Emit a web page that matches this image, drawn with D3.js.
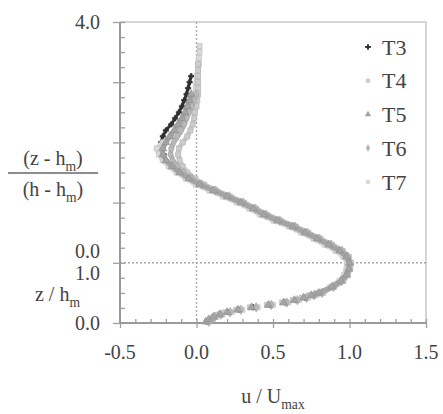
<!DOCTYPE html>
<html>
<head>
<meta charset="utf-8">
<script src="https://cdn.jsdelivr.net/npm/d3@7"></script>
<style>
  body { margin: 0; background: #fff; }
  svg text { fill: #444; }
</style>
</head>
<body>
<svg id="chart" width="443" height="414" font-family="'Liberation Serif', 'Times New Roman', 'DejaVu Serif', serif"></svg>
<script>
// measurement levels (composite vertical coordinate: 0-1 = z/hm, 1-5 = 1 + (z-hm)/(h-hm))
const zLevels = [0.02,0.06,0.10,0.14,0.18,0.22,0.26,0.30,0.34,0.38,0.42,0.46,0.50,
  0.6,0.7,0.8,0.9,1.0,1.1,1.2,1.3,1.4,1.5,1.6,1.7,1.8,1.9,2.0,2.1,2.2,2.3,2.4,2.5,
  2.6,2.7,2.8,2.9,3.0,3.1,3.2,3.3,3.4,3.5,3.6,3.7,3.8,3.9,4.0,4.1,4.2,4.3,4.4,4.5,4.6];

// u / Umax per run
const uT3 = [0.07,0.09,0.12,0.16,0.21,0.28,0.37,0.48,0.58,0.65,0.71,0.76,0.81,
  0.885,0.945,0.98,0.995,1.0,
  0.98,0.935,0.865,0.79,0.71,0.63,0.53,0.44,0.37,0.29,0.20,0.11,0.02,
  -0.05,-0.11,-0.16,-0.20,-0.215,-0.225,
  -0.23,-0.22,-0.20,-0.165,-0.14,-0.115,-0.095,-0.08,-0.065,-0.055,-0.045,-0.035];
const uT4 = [0.07,0.09,0.11,0.14,0.19,0.26,0.35,0.46,0.56,0.63,0.69,0.74,0.79,
  0.90,0.96,0.99,1.005,1.01,
  0.995,0.955,0.885,0.81,0.73,0.65,0.55,0.46,0.39,0.31,0.22,0.13,0.05,
  -0.01,-0.06,-0.09,-0.11,-0.12,-0.115,
  -0.09,-0.06,-0.04,-0.025,-0.015,-0.01,0.0,0.005,0.01,0.01,0.01,0.01,0.01,0.01];
const uT5 = [0.06,0.08,0.11,0.15,0.20,0.27,0.36,0.47,0.57,0.64,0.70,0.75,0.80,
  0.885,0.945,0.98,0.995,1.0,
  0.98,0.935,0.865,0.79,0.71,0.63,0.53,0.44,0.37,0.29,0.20,0.11,0.02,
  -0.05,-0.11,-0.16,-0.20,-0.22,-0.22,
  -0.20,-0.175,-0.145,-0.12,-0.095,-0.075,-0.06,-0.045,-0.035];
const uT6 = [0.08,0.10,0.12,0.16,0.22,0.29,0.39,0.49,0.59,0.66,0.72,0.77,0.82,
  0.895,0.95,0.98,0.995,1.0,
  0.99,0.95,0.88,0.805,0.725,0.645,0.545,0.455,0.385,0.305,0.215,0.125,0.035,
  -0.03,-0.085,-0.125,-0.155,-0.17,-0.165,
  -0.15,-0.125,-0.10,-0.08,-0.065,-0.05,-0.03,-0.015,0.0];
const uT7 = [0.08,0.10,0.13,0.17,0.23,0.30,0.40,0.50,0.60,0.67,0.73,0.78,0.83,
  0.875,0.935,0.965,0.98,0.985,
  0.96,0.91,0.84,0.765,0.685,0.605,0.505,0.415,0.345,0.265,0.175,0.085,-0.005,
  -0.07,-0.13,-0.18,-0.22,-0.245,-0.26,
  -0.22,-0.165,-0.125,-0.095,-0.07,-0.05,-0.035,-0.02,-0.01,-0.005,0.0,0.005,0.01,0.015,0.015,0.02,0.02];

const runNames = ["T3","T4","T5","T6","T7"];
const xTicks = [-0.5,0,0.5,1.0,1.5];

const series = [
  {name:"T3", u:uT3, color:"#333333", sym:d3.symbolCross},
  {name:"T4", u:uT4, color:"#cdcdcd", sym:d3.symbolSquare},
  {name:"T5", u:uT5, color:"#a4a4a4", sym:d3.symbolTriangle},
  {name:"T6", u:uT6, color:"#b9b9b9", sym:d3.symbolDiamond},
  {name:"T7", u:uT7, color:"#dadada", sym:d3.symbolSquare}
];

const svg = d3.select("#chart");
const pLeft = 120, pRight = 426, pTop = 22, pBottom = 323;

const x = d3.scaleLinear().domain([-0.5,1.5]).range([pLeft,pRight]);
const y = d3.scaleLinear().domain([0,5]).range([pBottom,pTop]);

// frame (top / right)
svg.append("path")
  .attr("d","M"+pLeft+","+pTop+"H"+pRight+"V"+pBottom)
  .attr("fill","none").attr("stroke","#c8c8c8").attr("stroke-width",1.5);

// dotted reference lines
svg.append("line")
  .attr("x1",x(0)).attr("x2",x(0)).attr("y1",pTop).attr("y2",pBottom)
  .attr("stroke","#a8a8a8").attr("stroke-width",1.3).attr("stroke-dasharray","2,2");
svg.append("line")
  .attr("x1",pLeft).attr("x2",pRight).attr("y1",y(1)).attr("y2",y(1))
  .attr("stroke","#a8a8a8").attr("stroke-width",1.6).attr("stroke-dasharray","2,2");

// axes
const xMinor = d3.range(-5,16).map(d=>d/10);
const yMinor = d3.range(0,21).map(d=>d/4);

function styleAxis(g) {
  g.select(".domain").remove();
  g.selectAll(".tick line").attr("stroke","#a0a0a0").attr("stroke-width",1.3);
  g.selectAll(".tick text").remove();
}

svg.append("g").attr("transform","translate(0,"+pBottom+")")
  .call(d3.axisTop(x).tickValues(xMinor).tickSize(4)).call(styleAxis);
svg.append("g").attr("transform","translate(0,"+pBottom+")")
  .call(d3.axisBottom(x).tickValues(xTicks).tickSize(5)).call(styleAxis);
svg.append("g").attr("transform","translate("+pLeft+",0)")
  .call(d3.axisRight(y).tickValues(yMinor).tickSize(5)).call(styleAxis);
svg.append("g").attr("transform","translate("+pLeft+",0)")
  .call(d3.axisLeft(y).tickValues([0,1,2,3,4,5]).tickSize(7)).call(styleAxis);

// axis lines
svg.append("path")
  .attr("d","M"+pLeft+","+pTop+"V"+pBottom+"H"+pRight)
  .attr("fill","none").attr("stroke","#9a9a9a").attr("stroke-width",2);

// x tick labels (plain hyphen minus like the original)
svg.append("g").selectAll("text")
  .data(xTicks)
  .enter()
  .append("text")
  .attr("x",d=>x(d))
  .attr("y",352)
  .attr("dy","0.35em")
  .attr("text-anchor","middle")
  .attr("font-size","20px")
  .text(d=>d.toFixed(1));

// y tick labels (two stacked scales)
const yLabels = [
  {v:0, off:0, t:"0.0"},
  {v:1, off:-12, t:"0.0"},
  {v:1, off:10, t:"1.0"},
  {v:5, off:0, t:"4.0"}
];
svg.append("g").selectAll("text")
  .data(yLabels)
  .enter()
  .append("text")
  .attr("x",100)
  .attr("y",d=>y(d.v)+d.off)
  .attr("dy","0.35em")
  .attr("text-anchor","end")
  .attr("font-size","20px")
  .text(d=>d.t);

// axis titles with subscripts
function subLabel(g, xx, yy, anchor, before, sub, after, size) {
  const t = g.append("text")
    .attr("x",xx).attr("y",yy).attr("dy","0.35em")
    .attr("text-anchor",anchor).attr("font-size",size+"px");
  t.append("tspan").text(before);
  t.append("tspan").attr("font-size",(size*0.68)+"px").attr("dy","0.45em").text(sub);
  if (after) t.append("tspan").attr("dy","-0.3em").text(after);
  return t;
}
subLabel(svg, 80, 294, "end", "z / h", "m", null, 20);
subLabel(svg, 53, 158, "middle", "(z - h", "m", ")", 20);
subLabel(svg, 53, 189, "middle", "(h - h", "m", ")", 20);
svg.append("line").attr("x1",8).attr("x2",98).attr("y1",173).attr("y2",173)
  .attr("stroke","#666").attr("stroke-width",1.3);
subLabel(svg, 273, 396, "middle", "u / U", "max", null, 20);

// profiles: markers everywhere, a smeared band only where points are dense
const line = d3.line()
  .defined(d=>d[1]>=0.46)
  .x(d=>x(d[0]))
  .y(d=>y(d[1]));

const drawOrder = ["T3","T7","T4","T6","T5"];
drawOrder.forEach(name=>{
  const s = series.find(e=>e.name==name);
  const pts = s.u.map((u,i)=>[u,zLevels[i]]);
  svg.append("path")
    .datum(pts)
    .attr("fill","none")
    .attr("stroke",s.color)
    .attr("stroke-width",name=="T3"?3:5)
    .attr("stroke-linejoin","round")
    .attr("stroke-linecap","round")
    .attr("d",line);
  svg.append("g").selectAll("path")
    .data(pts)
    .enter()
    .append("path")
    .attr("transform",d=>"translate("+x(d[0])+","+y(d[1])+")")
    .attr("d",d3.symbol().type(s.sym).size(name=="T3"?16:26))
    .attr("fill",s.color)
    .attr("stroke",d3.color(s.color).darker(0.4))
    .attr("stroke-width",0.6);
});

// legend
const legend = svg.append("g");
runNames.forEach((name,i)=>{
  const s = series.find(e=>e.name==name);
  const ly = 47 + i*33.7;
  legend.append("path")
    .attr("transform","translate(368,"+ly+")")
    .attr("d",d3.symbol().type(s.sym).size(18))
    .attr("fill",s.color);
  legend.append("text")
    .attr("x",382).attr("y",ly).attr("dy","0.35em")
    .attr("font-size","22px")
    .text(name);
});
</script>
</body>
</html>
